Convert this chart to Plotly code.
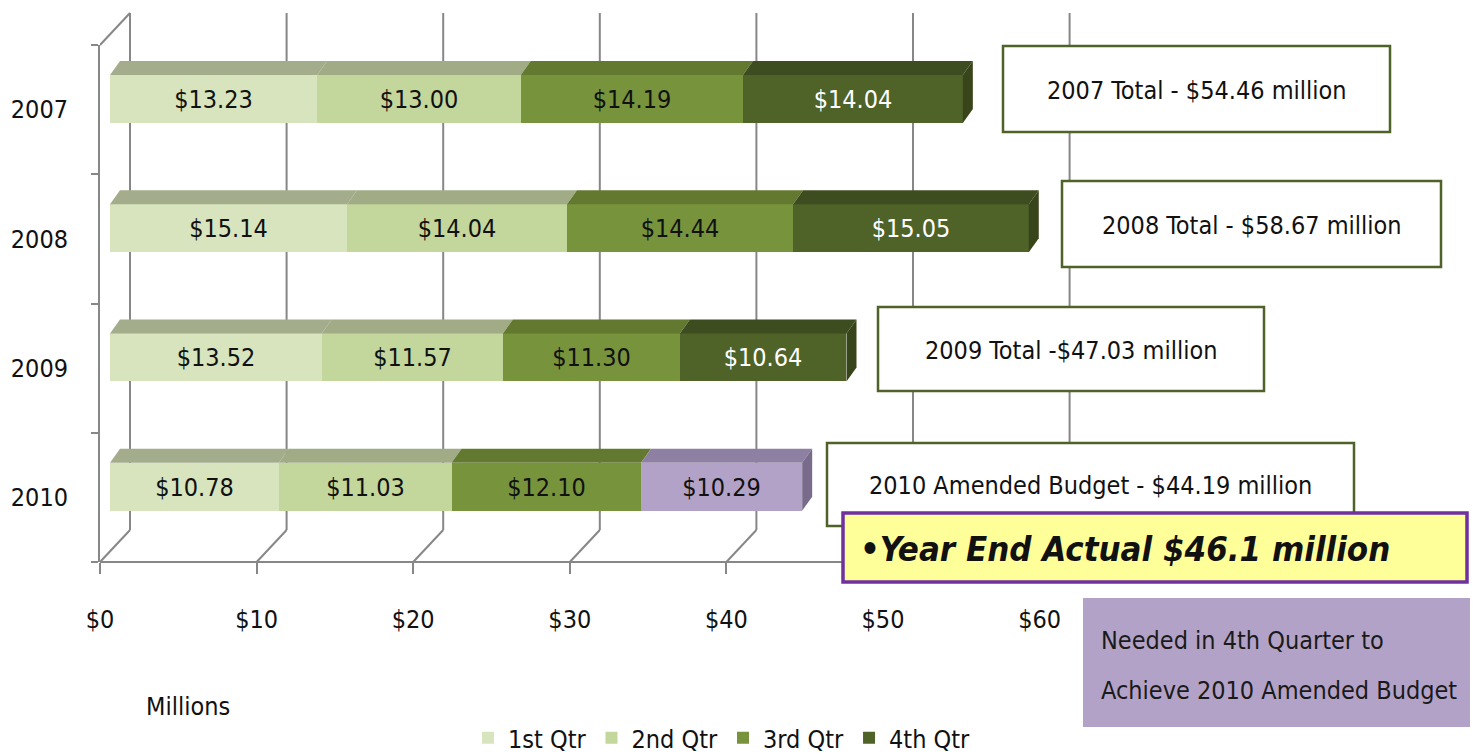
import plotly.graph_objects as go

# ---------------- data ----------------
years = ["2007", "2008", "2009", "2010"]
quarters = ["1st Qtr", "2nd Qtr", "3rd Qtr", "4th Qtr"]
q1 = [13.23, 15.14, 13.52, 10.78]
q2 = [13.00, 14.04, 11.57, 11.03]
q3 = [14.19, 14.44, 11.30, 12.10]
q4 = [14.04, 15.05, 10.64, 10.29]
x_tick_values = [0, 10, 20, 30, 40, 50, 60]
x_tick_labels = ["$0", "$10", "$20", "$30", "$40", "$50", "$60"]
total_labels = [
    "2007 Total - $54.46 million",
    "2008 Total - $58.67 million",
    "2009 Total -$47.03 million",
    "2010 Amended Budget - $44.19 million",
]
year_end_label = "•Year End Actual $46.1 million"
needed_lines = ["Needed in 4th Quarter to", "Achieve 2010 Amended Budget"]
axis_title = "Millions"

# ---------------- styles ----------------
FONT = "DejaVu Sans Condensed, Liberation Sans Narrow, Arial Narrow, sans-serif"
FS = 25
front_colors = ["#d7e4bd", "#c3d69b", "#77933c", "#4f6228"]
top_colors = ["#a3ad8c", "#a1ab85", "#63792f", "#3e4d20"]
side_color = "#38451b"
needed_front, needed_top, needed_side = "#b3a2c7", "#8e80a3", "#786b8b"
text_colors = ["#111111", "#111111", "#111111", "#ffffff"]
GRID = "#878787"
BOX_BORDER = "#4f6228"

SCREEN_W, SCREEN_H = 1478, 754
PAGE_MARGIN = 8                          # default body margin of the html page
W, H = SCREEN_W - PAGE_MARGIN, SCREEN_H - PAGE_MARGIN
L, R, T, B = 100, 1478, 45, 562          # front plane plot area (screen px)
PXU = 15.66                              # px per $1M
XMAX = (R - L) / PXU
CAT = (B - T) / len(years)               # px per category
BAR_DX, BAR_DY = 10, 10.7                # bar plane offset from front plane
DEPTH_DX, DEPTH_DY = 30, 32              # back wall offset
FACE_DX, FACE_DY = 10, 14                # bar depth
BAR_W = 48 / CAT


def px_x(p):
    return (p - L) / (R - L)


def px_y(p):
    return (B - p) / (B - T)


series = [q1, q2, q3, q4]
idx = list(range(len(years)))

fig = go.Figure()

for s, (name, vals) in enumerate(zip(quarters, series)):
    colors = [front_colors[s]] * len(vals)
    tcolors = [text_colors[s]] * len(vals)
    if s == 3:
        colors[-1] = needed_front
        tcolors[-1] = "#111111"
    fig.add_trace(go.Bar(
        name=name, y=idx, x=vals, orientation="h",
        xaxis="x2", yaxis="y2", width=BAR_W,
        marker=dict(color=colors, line=dict(width=0)),
        texttemplate="$%{x:.2f}", textposition="inside",
        insidetextanchor="middle", constraintext="none",
        textfont=dict(family=FONT, size=FS, color=tcolors),
        hoverinfo="skip",
    ))

shapes = []
# ---- back wall gridlines + floor diagonals (front x axis) ----
ddx = DEPTH_DX / PXU
for v in x_tick_values:
    shapes.append(dict(type="line", xref="x", yref="paper", layer="below",
                       x0=v + ddx, x1=v + ddx, y0=px_y(T - DEPTH_DY), y1=px_y(B - DEPTH_DY),
                       line=dict(color=GRID, width=2)))
    shapes.append(dict(type="line", xref="x", yref="paper", layer="below",
                       x0=v + ddx, x1=v, y0=px_y(B - DEPTH_DY), y1=0,
                       line=dict(color=GRID, width=2)))
shapes.append(dict(type="line", xref="x", yref="paper", layer="below",
                   x0=0, x1=ddx, y0=1, y1=px_y(T - DEPTH_DY),
                   line=dict(color=GRID, width=2)))
shapes.append(dict(type="line", xref="x", yref="paper", layer="below",
                   x0=0, x1=x_tick_values[-1], y0=0, y1=0,
                   line=dict(color=GRID, width=2)))

# ---- 3D faces of bars ----
fdx = FACE_DX / PXU
fdy = FACE_DY / CAT
for c in idx:
    base = 0.0
    yt = c - BAR_W / 2
    yb = c + BAR_W / 2
    for s, vals in enumerate(series):
        a, b = base, base + vals[c]
        tc = top_colors[s]
        if s == 3 and c == idx[-1]:
            tc = needed_top
        shapes.append(dict(type="path", xref="x2", yref="y2", layer="above",
                           path=f"M{a},{yt} L{b},{yt} L{b + fdx},{yt - fdy} L{a + fdx},{yt - fdy} Z",
                           fillcolor=tc, line=dict(width=0)))
        base = b
    sc = needed_side if c == idx[-1] else side_color
    shapes.append(dict(type="path", xref="x2", yref="y2", layer="above",
                       path=f"M{base},{yt} L{base + fdx},{yt - fdy} L{base + fdx},{yb - fdy} L{base},{yb} Z",
                       fillcolor=sc, line=dict(width=0)))

# ---- annotation boxes ----
boxes = [(1003, 46, 1390, 132), (1062, 181, 1441, 267), (878, 307, 1264, 391), (827, 443, 1354, 526)]
annotations = []
for (x0, y0, x1, y1), txt in zip(boxes, total_labels):
    shapes.append(dict(type="rect", xref="paper", yref="paper", layer="above",
                       x0=px_x(x0), x1=px_x(x1), y0=px_y(y0), y1=px_y(y1),
                       fillcolor="white", line=dict(color=BOX_BORDER, width=2.5)))
    annotations.append(dict(xref="paper", yref="paper", x=px_x((x0 + x1) / 2), y=px_y((y0 + y1) / 2 + 1),
                            text=txt, showarrow=False, xanchor="center", yanchor="middle",
                            font=dict(family=FONT, size=FS, color="#111111")))

shapes.append(dict(type="rect", xref="paper", yref="paper", layer="above",
                   x0=px_x(843), x1=px_x(1467), y0=px_y(513), y1=px_y(582),
                   fillcolor="#ffff99", line=dict(color="#7030a0", width=3.5)))
annotations.append(dict(xref="paper", yref="paper", x=px_x(858), y=px_y(549),
                        text=f"<b><i>{year_end_label}</i></b>", showarrow=False,
                        xanchor="left", yanchor="middle",
                        font=dict(family=FONT, size=34.5, color="#111111")))

shapes.append(dict(type="rect", xref="paper", yref="paper", layer="above",
                   x0=px_x(1083), x1=px_x(1478), y0=px_y(598), y1=px_y(727),
                   fillcolor=needed_front, line=dict(width=0)))
for line_txt, yy in zip(needed_lines, [640, 690]):
    annotations.append(dict(xref="paper", yref="paper", x=px_x(1099), y=px_y(yy),
                            text=line_txt, showarrow=False, xanchor="left", yanchor="middle",
                            font=dict(family=FONT, size=FS, color="#1a1a1a")))

annotations.append(dict(xref="paper", yref="paper", x=px_x(188), y=px_y(706),
                        text=axis_title, showarrow=False, xanchor="center", yanchor="middle",
                        font=dict(family=FONT, size=FS, color="#111111")))

fig.update_layout(
    width=W, height=H, autosize=False,
    margin=dict(l=L - PAGE_MARGIN, r=SCREEN_W - R, t=T - PAGE_MARGIN, b=SCREEN_H - B,
                pad=0, autoexpand=False),
    paper_bgcolor="white", plot_bgcolor="rgba(0,0,0,0)",
    barmode="stack", bargap=0,
    font=dict(family=FONT, size=FS, color="#111111"),
    xaxis=dict(range=[0, XMAX], tickvals=x_tick_values, ticktext=x_tick_labels,
               ticks="outside", ticklen=11, tickwidth=2, tickcolor=GRID,
               showgrid=False, zeroline=False, showline=False, automargin=False,
               tickfont=dict(family=FONT, size=FS, color="#111111"),
               ticklabelstandoff=24),
    yaxis=dict(range=[len(years) - 0.5, -0.5], tickvals=idx, ticktext=years,
               ticks="", showgrid=False, zeroline=False, automargin=False,
               showline=True, linecolor=GRID, linewidth=2,
               minor=dict(tickvals=[i - 0.5 for i in range(len(years) + 1)], ticks="outside",
                          ticklen=7, tickwidth=2, tickcolor=GRID, showgrid=False),
               tickfont=dict(family=FONT, size=FS, color="#111111"),
               ticklabelstandoff=25),
    xaxis2=dict(overlaying="x", range=[-BAR_DX / PXU, XMAX - BAR_DX / PXU], visible=False),
    yaxis2=dict(overlaying="y",
                range=[len(years) - 0.5 + BAR_DY / CAT, -0.5 + BAR_DY / CAT], visible=False),
    legend=dict(orientation="h", x=px_x(468), y=px_y(738), xanchor="left", yanchor="middle",
                font=dict(family=FONT, size=FS, color="#111111"), bgcolor="rgba(0,0,0,0)",
                traceorder="normal", itemwidth=30),
    shapes=shapes, annotations=annotations,
    showlegend=True,
)

fig.write_html("out.html")
